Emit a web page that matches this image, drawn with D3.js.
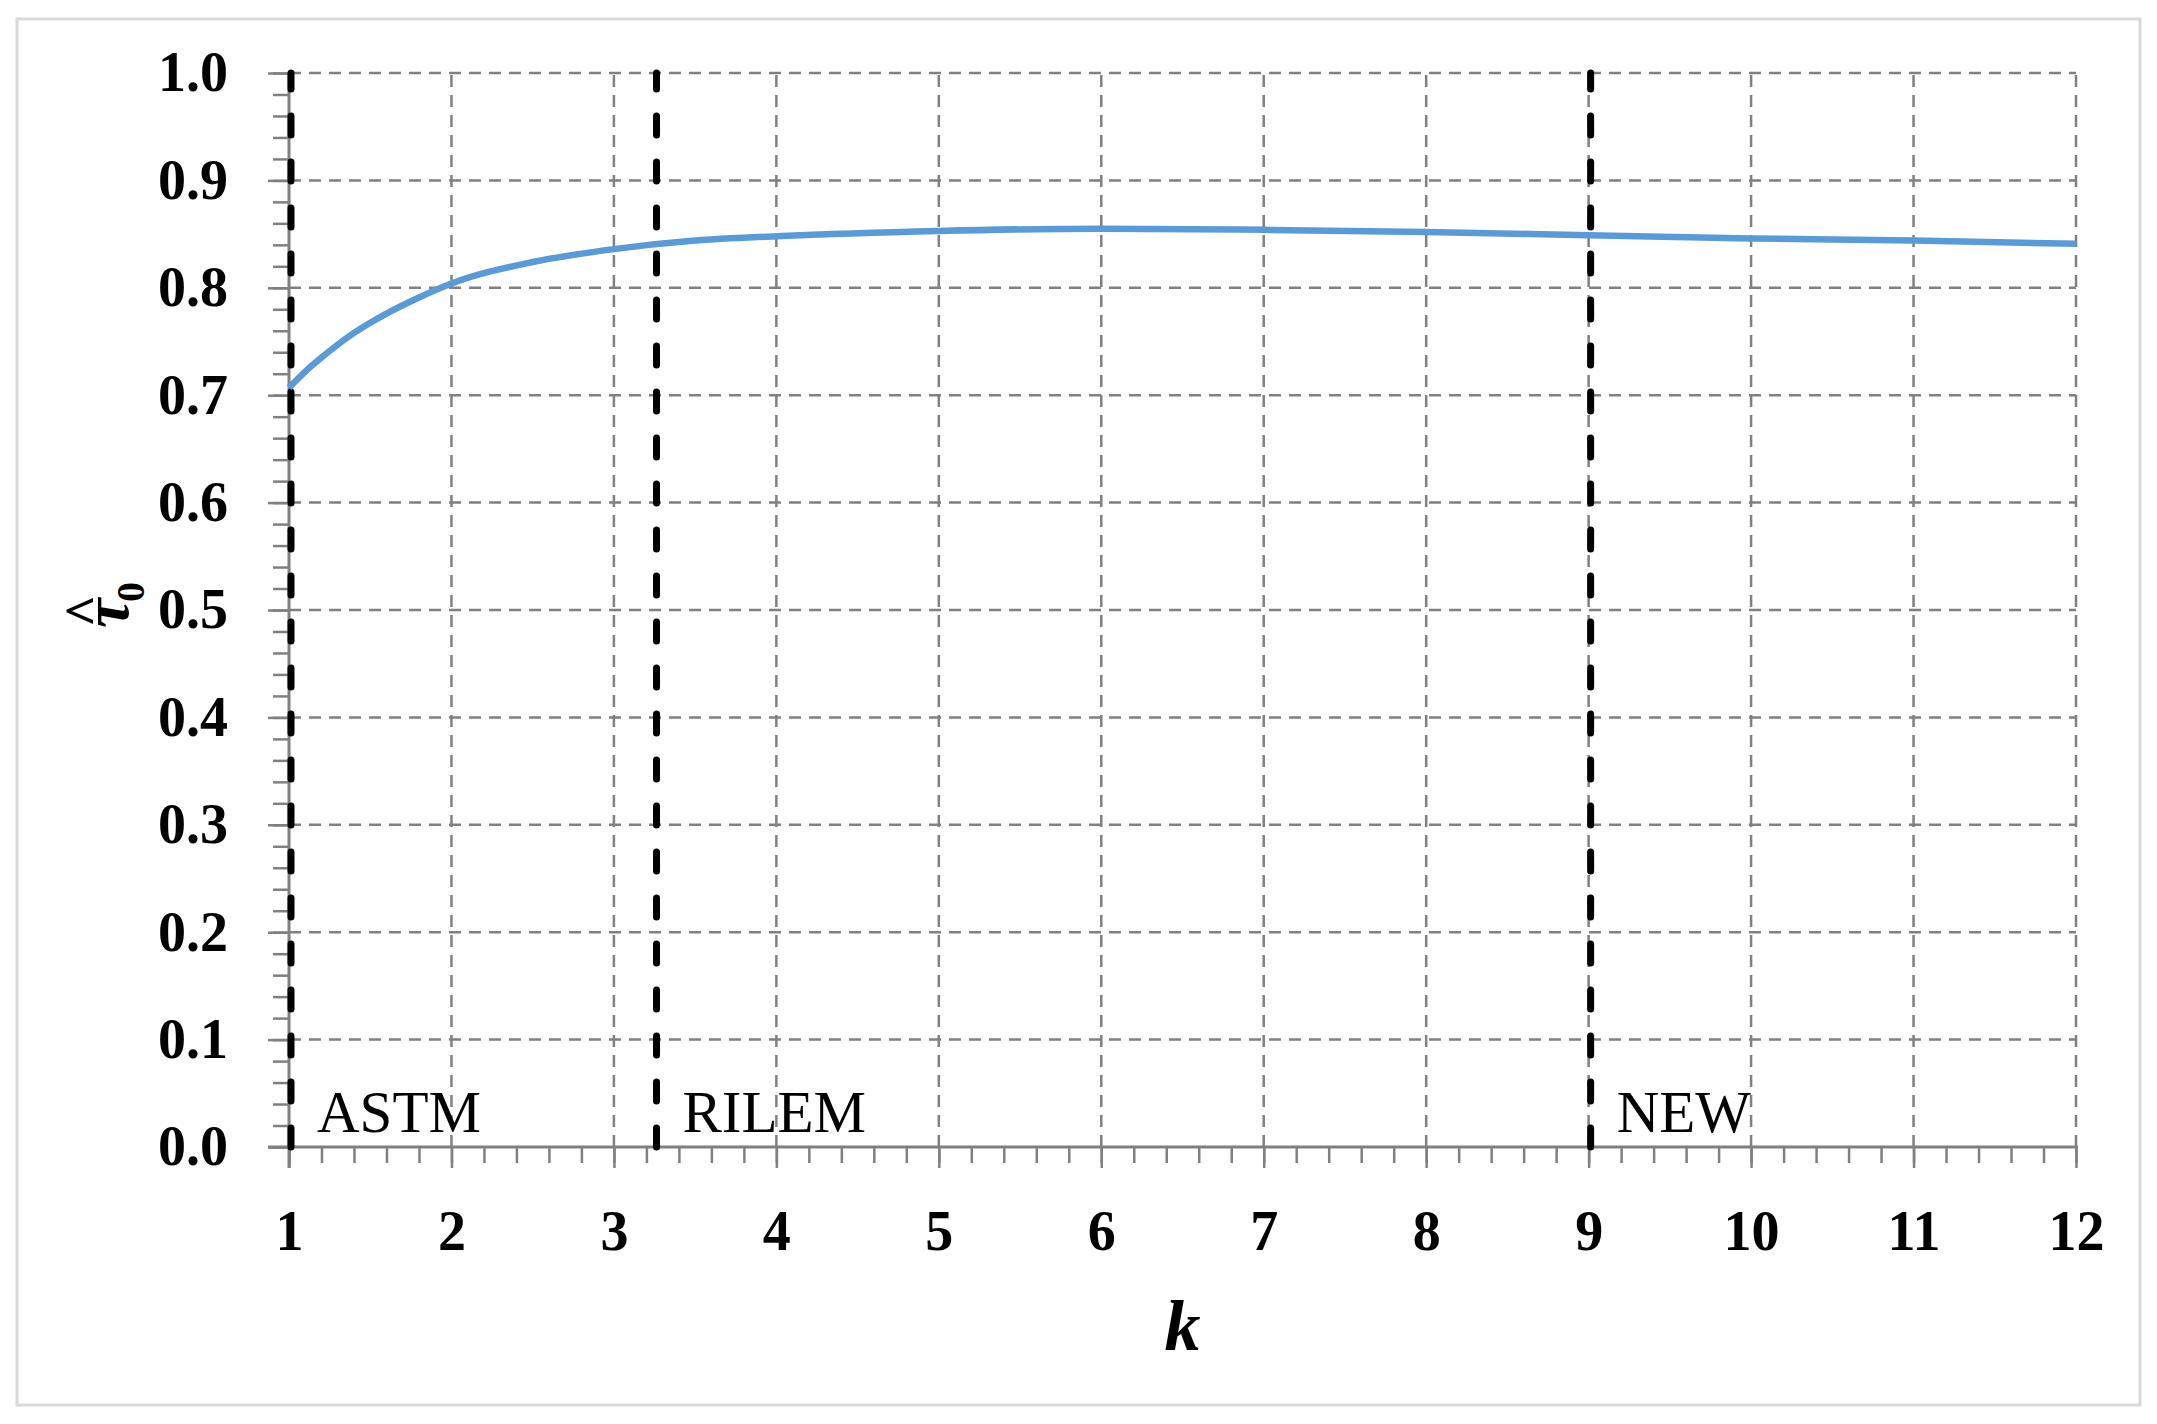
<!DOCTYPE html>
<html>
<head>
<meta charset="utf-8">
<script src="https://cdn.jsdelivr.net/npm/d3@7"></script>
<style>
  html, body { margin: 0; padding: 0; background: #ffffff; }
  svg { display: block; }
  text { font-family: "Liberation Serif", "Times New Roman", serif; fill: #000; }
</style>
</head>
<body>
<script>
// ---------------- data ----------------
const kValues   = [1, 1.1, 1.2, 1.4, 1.6, 1.8, 2, 2.5, 3, 3.5, 4, 5, 6, 7, 8, 9, 10, 11, 12];
const tauValues = [0.707, 0.722, 0.735, 0.758, 0.776, 0.791, 0.804, 0.824, 0.836, 0.844, 0.848, 0.853, 0.855, 0.854, 0.852, 0.849, 0.846, 0.844, 0.841];
const standardNames = ["ASTM", "RILEM", "NEW"];
const standardK     = [1, 3.25, 9];
const xTickValues = [1, 2, 3, 4, 5, 6, 7, 8, 9, 10, 11, 12];
const yTickValues = [0, 0.1, 0.2, 0.3, 0.4, 0.5, 0.6, 0.7, 0.8, 0.9, 1.0];
const xMinorTicks = d3.range(1, 12.0001, 0.2);
const yMinorTicks = d3.range(0, 1.0001, 0.02);
const xTitle = "k";

// ---------------- layout ----------------
const W = 2157, H = 1424;
const mLeft = 289, mRight = 2076, mTop = 73, mBottom = 1147;

const svg = d3.select("body").append("svg").attr("width", W).attr("height", H);
svg.append("rect").attr("width", W).attr("height", H).attr("fill", "#fff");

// outer frame
svg.append("rect").attr("x", 17).attr("y", 19).attr("width", 2123).attr("height", 1386)
  .attr("fill", "none").attr("stroke", "#d9d9d9").attr("stroke-width", 3);

const x = d3.scaleLinear().domain([1, 12]).range([mLeft, mRight]);
const y = d3.scaleLinear().domain([0, 1]).range([mBottom, mTop]);

const gridColor = "#808080";

// horizontal gridlines
svg.append("g").selectAll("line").data(yTickValues.filter(v => v > 0)).join("line")
  .attr("x1", mLeft).attr("x2", mRight)
  .attr("y1", d => y(d)).attr("y2", d => y(d))
  .attr("stroke", gridColor).attr("stroke-width", 2.5).attr("stroke-dasharray", "12,8");

// vertical gridlines
svg.append("g").selectAll("line").data(xTickValues.filter(v => v > 1)).join("line")
  .attr("x1", d => x(d)).attr("x2", d => x(d))
  .attr("y1", mBottom).attr("y2", mTop)
  .attr("stroke", gridColor).attr("stroke-width", 2.5).attr("stroke-dasharray", "12,8");

// minor ticks
const yMinor = svg.append("g").attr("transform", `translate(${mLeft},0)`)
  .call(d3.axisLeft(y).tickValues(yMinorTicks).tickSize(16).tickFormat(""));
const xMinor = svg.append("g").attr("transform", `translate(0,${mBottom})`)
  .call(d3.axisBottom(x).tickValues(xMinorTicks).tickSize(16).tickFormat(""));
[yMinor, xMinor].forEach(g => {
  g.select(".domain").remove();
  g.selectAll("line").attr("stroke", gridColor).attr("stroke-width", 2.5);
});

// major axes
const yAxis = svg.append("g").attr("transform", `translate(${mLeft},0)`)
  .call(d3.axisLeft(y).tickValues(yTickValues).tickSize(21).tickPadding(40).tickFormat(d3.format(".1f")));
const xAxis = svg.append("g").attr("transform", `translate(0,${mBottom})`)
  .call(d3.axisBottom(x).tickValues(xTickValues).tickSize(21).tickPadding(42).tickFormat(d3.format("d")));
[yAxis, xAxis].forEach(g => {
  g.select(".domain").remove();
  g.selectAll("line").attr("stroke", gridColor).attr("stroke-width", 2.5);
  g.selectAll("text").attr("font-family", "Liberation Serif, serif")
    .attr("font-size", 56).attr("font-weight", "bold").attr("fill", "#000");
});
// axis lines
svg.append("line").attr("x1", mLeft).attr("x2", mLeft).attr("y1", mTop).attr("y2", mBottom + 21)
  .attr("stroke", gridColor).attr("stroke-width", 3);
svg.append("line").attr("x1", mLeft - 21).attr("x2", mRight + 2).attr("y1", mBottom).attr("y2", mBottom)
  .attr("stroke", gridColor).attr("stroke-width", 3);

// standard lines
svg.append("g").selectAll("line").data(standardK).join("line")
  .attr("x1", d => x(d) + 2).attr("x2", d => x(d) + 2)
  .attr("y1", mBottom).attr("y2", mTop)
  .attr("stroke", "#000").attr("stroke-width", 7)
  .attr("stroke-linecap", "round").attr("stroke-dasharray", "19,27");

svg.append("g").selectAll("text").data(standardNames).join("text")
  .attr("x", (d, i) => x(standardK[i]) + 28)
  .attr("y", mBottom - 15)
  .attr("font-size", 59)
  .text(d => d);

// curve
const pts = kValues.map((k, i) => [k, tauValues[i]]);
svg.append("path").datum(pts)
  .attr("fill", "none").attr("stroke", "#5b9bd5").attr("stroke-width", 6.5)
  .attr("d", d3.line().x(d => x(d[0])).y(d => y(d[1])).curve(d3.curveMonotoneX));

// x title
svg.append("text").attr("x", (mLeft + mRight) / 2).attr("y", 1350)
  .attr("text-anchor", "middle").attr("font-size", 72)
  .attr("font-weight", "bold").attr("font-style", "italic").text(xTitle);

// y title: tau hat with subscript 0, rotated
const yt = svg.append("g").attr("transform", "translate(128,628) rotate(-90)");
yt.append("text").attr("x", 0).attr("y", 0).attr("font-size", 66)
  .attr("font-weight", "bold").attr("font-style", "italic").text("τ");
yt.append("text").attr("x", 26).attr("y", 16).attr("font-size", 40)
  .attr("font-weight", "bold").text("0");
yt.append("text").attr("x", 17).attr("y", -24).attr("font-size", 56)
  .attr("text-anchor", "middle").attr("font-weight", "bold").text("^");
</script>
</body>
</html>
